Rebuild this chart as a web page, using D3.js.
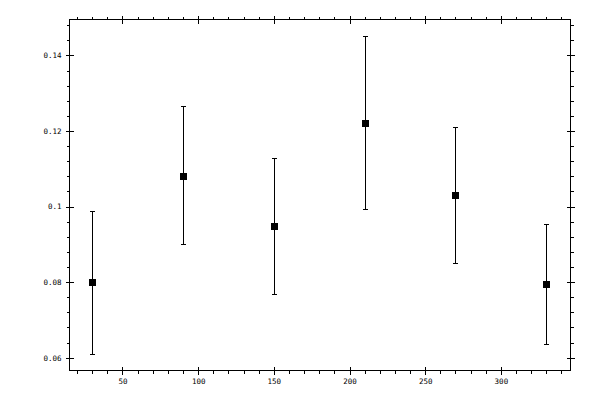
<!DOCTYPE html>
<html>
<head>
<meta charset="utf-8">
<script src="https://cdn.jsdelivr.net/npm/d3@7"></script>
<style>
  html, body { margin: 0; padding: 0; background: #fff; }
  svg { display: block; }
  .axis text { font-family: "DejaVu Sans Mono", monospace; font-size: 7.5px; fill: #000; }
  .axis path, .axis line { stroke: #000; shape-rendering: crispEdges; }
</style>
</head>
<body>
<svg id="chart" width="600" height="400"></svg>
<script>
// Data
const xValues = [30, 90, 150, 210, 270, 330];
const yValues = [0.0800, 0.1081, 0.0949, 0.1222, 0.1031, 0.0795];
const yUpper  = [0.0989, 0.1265, 0.1129, 0.1452, 0.1211, 0.0953];
const yLower  = [0.0610, 0.0901, 0.0769, 0.0994, 0.0851, 0.0636];
const xMajorTicks = [50, 100, 150, 200, 250, 300];
const xMinorTicks = [20, 30, 40, 60, 70, 80, 90, 110, 120, 130, 140, 160, 170, 180, 190, 210, 220, 230, 240, 260, 270, 280, 290, 310, 320, 330, 340];
const yMajorTicks = [0.06, 0.08, 0.10, 0.12, 0.14];
const yTickLabels = ["0.06", "0.08", "0.1", "0.12", "0.14"];
const yMinorTicks = [0.064, 0.068, 0.072, 0.076, 0.084, 0.088, 0.092, 0.096, 0.104, 0.108, 0.112, 0.116, 0.124, 0.128, 0.132, 0.136, 0.144, 0.148];
const xDomain = [15, 346];
const yDomain = [0.0566, 0.1495];

const svg = d3.select("#chart");
const L = 69.5, R = 570.5, T = 19.5, B = 370.5;

const x = d3.scaleLinear().domain(xDomain).range([L, R]);
const y = d3.scaleLinear().domain(yDomain).range([B, T]);

function clean(g) { g.select(".domain").remove(); }

// Frame
svg.append("rect")
  .attr("x", L).attr("y", T).attr("width", R - L).attr("height", B - T)
  .attr("fill", "none").attr("stroke", "#000").attr("shape-rendering", "crispEdges");

// Bottom axis
svg.append("g").attr("class", "axis").attr("transform", `translate(0,${B})`)
  .call(d3.axisBottom(x).tickValues(xMajorTicks).tickSize(4).tickPadding(4).tickFormat(d3.format("d")))
  .call(clean);
svg.append("g").attr("class", "axis").attr("transform", `translate(0,${B})`)
  .call(d3.axisTop(x).tickValues(xMajorTicks).tickSize(4).tickFormat(""))
  .call(clean);
svg.append("g").attr("class", "axis").attr("transform", `translate(0,${B})`)
  .call(d3.axisBottom(x).tickValues(xMinorTicks).tickSize(3).tickFormat(""))
  .call(clean);

// Top axis
svg.append("g").attr("class", "axis").attr("transform", `translate(0,${T})`)
  .call(d3.axisTop(x).tickValues(xMajorTicks).tickSize(4).tickFormat(""))
  .call(clean);
svg.append("g").attr("class", "axis").attr("transform", `translate(0,${T})`)
  .call(d3.axisBottom(x).tickValues(xMajorTicks).tickSize(4).tickFormat(""))
  .call(clean);
svg.append("g").attr("class", "axis").attr("transform", `translate(0,${T})`)
  .call(d3.axisTop(x).tickValues(xMinorTicks).tickSize(3).tickFormat(""))
  .call(clean);

// Left axis
svg.append("g").attr("class", "axis").attr("transform", `translate(${L},0)`)
  .call(d3.axisLeft(y).tickValues(yMajorTicks).tickSize(4).tickPadding(4)
    .tickFormat((d, i) => yTickLabels[i]))
  .call(clean);
svg.append("g").attr("class", "axis").attr("transform", `translate(${L},0)`)
  .call(d3.axisRight(y).tickValues(yMajorTicks).tickSize(4).tickFormat(""))
  .call(clean);
svg.append("g").attr("class", "axis").attr("transform", `translate(${L},0)`)
  .call(d3.axisLeft(y).tickValues(yMinorTicks).tickSize(3).tickFormat(""))
  .call(clean);

// Right axis
svg.append("g").attr("class", "axis").attr("transform", `translate(${R},0)`)
  .call(d3.axisRight(y).tickValues(yMajorTicks).tickSize(4).tickFormat(""))
  .call(clean);
svg.append("g").attr("class", "axis").attr("transform", `translate(${R},0)`)
  .call(d3.axisLeft(y).tickValues(yMajorTicks).tickSize(4).tickFormat(""))
  .call(clean);
svg.append("g").attr("class", "axis").attr("transform", `translate(${R},0)`)
  .call(d3.axisRight(y).tickValues(yMinorTicks).tickSize(3).tickFormat(""))
  .call(clean);

// Error bars
const data = xValues.map((xv, i) => ({ x: xv, y: yValues[i], hi: yUpper[i], lo: yLower[i] }));
const px = d => Math.round(x(d)) + 0.5;
const py = d => Math.round(y(d)) + 0.5;

const eb = svg.append("g").attr("stroke", "#000").attr("stroke-width", 1).attr("shape-rendering", "crispEdges");
eb.selectAll("line.v").data(data).join("line").attr("class", "v")
  .attr("x1", d => px(d.x)).attr("x2", d => px(d.x))
  .attr("y1", d => py(d.hi)).attr("y2", d => py(d.lo));
eb.selectAll("line.t").data(data).join("line").attr("class", "t")
  .attr("x1", d => px(d.x) - 2.5).attr("x2", d => px(d.x) + 2.5)
  .attr("y1", d => py(d.hi)).attr("y2", d => py(d.hi));
eb.selectAll("line.b").data(data).join("line").attr("class", "b")
  .attr("x1", d => px(d.x) - 2.5).attr("x2", d => px(d.x) + 2.5)
  .attr("y1", d => py(d.lo)).attr("y2", d => py(d.lo));

// Markers
svg.append("g").selectAll("rect").data(data).join("rect")
  .attr("x", d => Math.round(x(d.x)) - 3)
  .attr("y", d => Math.round(y(d.y)) - 3)
  .attr("width", 7).attr("height", 7)
  .attr("fill", "#000")
  .attr("shape-rendering", "crispEdges");
</script>
</body>
</html>
